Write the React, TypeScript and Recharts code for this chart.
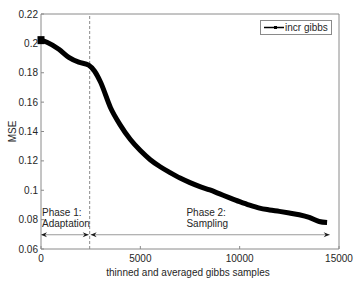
import React from 'react';
import { LineChart, Line, XAxis, YAxis, ReferenceLine, Legend } from 'recharts';

const xValues = [0, 300, 900, 1400, 1900, 2400, 2700, 3000, 3500, 4000, 4500, 5000, 5500, 6000, 6500, 7000, 7500, 8000, 8500, 9000, 9500, 10000, 10500, 11000, 11500, 12000, 12500, 13000, 13500, 14000, 14400];
const mseValues = [0.2022, 0.2008, 0.196, 0.1905, 0.1872, 0.1852, 0.181, 0.1735, 0.1562, 0.1442, 0.1345, 0.127, 0.1208, 0.116, 0.112, 0.1083, 0.1052, 0.1025, 0.1002, 0.0975, 0.0948, 0.0922, 0.0898, 0.0878, 0.0866, 0.0856, 0.0845, 0.0833, 0.0815, 0.0787, 0.078];
const xTicks = [0, 5000, 10000, 15000];
const yTicks = [0.06, 0.08, 0.1, 0.12, 0.14, 0.16, 0.18, 0.2, 0.22];
const seriesName = 'incr gibbs';
const phaseBoundary = 2450;
const arrowY = 0.0697;
const phase1Arrow = [0, 2400];
const phase2Arrow = [2500, 14530];
const phase1Text = ['Phase 1:', 'Adaptation'];
const phase2Text = ['Phase 2:', 'Sampling'];
const phase2TextX = 7320;

const data = xValues.map((x, i) => ({ x, y: mseValues[i] }));

const FONT = '"Liberation Sans", Arial, Helvetica, sans-serif';
const AXIS = '#8a8a8a';
const TEXT = '#262626';

const head = (tx: number, ty: number, dir: number) => {
  const L = 6, W = 2.6, N = 4;
  const pts = `${tx},${ty} ${tx - dir * L},${ty - W} ${tx - dir * N},${ty} ${tx - dir * L},${ty + W}`;
  return <polygon points={pts} fill="#1a1a1a" stroke="none" />;
};

const arrowShape = (props: any) => {
  const { x1, y1, x2 } = props;
  return (
    <g>
      <line x1={x1} y1={y1} x2={x2} y2={y1} stroke="#9a9a9a" strokeWidth={1} />
      {head(x1, y1, -1)}
      {head(x2, y1, 1)}
    </g>
  );
};

const textShape = (lines: string[]) => (props: any) => {
  const { x1, y1 } = props;
  return (
    <g>
      <text x={x1} y={y1 - 19} fontSize={10} fontFamily={FONT} fill={TEXT}>{lines[0]}</text>
      <text x={x1} y={y1 - 8} fontSize={10} fontFamily={FONT} fill={TEXT}>{lines[1]}</text>
    </g>
  );
};

const renderDot = (props: any) => {
  const { cx, cy, index } = props;
  if (index !== 0) return <g key={`d${index}`} />;
  return <rect key={`d${index}`} x={cx - 3.5} y={cy - 4} width={7} height={8} fill="#000" />;
};

const legendContent = () => (
  <div style={{ position: 'relative', width: 0, height: 0, overflow: 'visible' }}>
    <div
      style={{
        position: 'absolute',
        left: 0,
        top: 0,
        border: '1px solid #8a8a8a',
        background: '#fff',
        height: 13,
        width: 70,
        display: 'flex',
        alignItems: 'center',
        fontFamily: FONT,
        fontSize: 10,
        color: TEXT,
        boxSizing: 'content-box',
      }}
    >
      <svg width={24} height={13} style={{ display: 'block', flex: 'none' }}>
        <line x1={3} y1={6.5} x2={23} y2={6.5} stroke="#000" strokeWidth={1.5} />
        <rect x={13} y={5} width={3} height={3} fill="#000" />
      </svg>
      <span style={{ whiteSpace: 'nowrap' }}>{seriesName}</span>
    </div>
  </div>
);

export default function App() {
  return (
    <div style={{ position: 'absolute', left: 0, top: 0 }}>
      <LineChart width={359} height={284} data={data} margin={{ top: 0, right: 0, bottom: 0, left: 0 }}>
        <XAxis
          xAxisId="b"
          dataKey="x"
          type="number"
          domain={[0, 15000]}
          ticks={xTicks}
          height={35}
          stroke={AXIS}
          tickSize={-3}
          tickMargin={9}
          tick={{ fill: TEXT, fontSize: 10, fontFamily: FONT }}
          label={{
            content: (p: any) => {
              const vb = p.viewBox;
              return (
                <text x={vb.x + vb.width / 2 - 2} y={vb.y + 27} textAnchor="middle" fontSize={10} fontFamily={FONT} fill={TEXT}>
                  thinned and averaged gibbs samples
                </text>
              );
            },
          }}
        />
        <XAxis
          xAxisId="t"
          orientation="top"
          type="number"
          domain={[0, 15000]}
          ticks={xTicks}
          height={14}
          stroke={AXIS}
          tickSize={-3}
          tick={false}
        />
        <YAxis
          yAxisId="l"
          type="number"
          domain={[0.06, 0.22]}
          ticks={yTicks}
          width={41}
          stroke={AXIS}
          tickSize={-3}
          tickMargin={6}
          tickFormatter={(v: number) => String(Number(v.toFixed(2)))}
          tick={{ fill: TEXT, fontSize: 10, fontFamily: FONT }}
          label={{
            content: (p: any) => {
              const vb = p.viewBox;
              const cy = vb.y + vb.height / 2;
              return (
                <text x={16} y={cy} textAnchor="middle" transform={`rotate(-90, 16, ${cy})`} fontSize={10} fontFamily={FONT} fill={TEXT}>
                  MSE
                </text>
              );
            },
          }}
        />
        <YAxis
          yAxisId="r"
          orientation="right"
          type="number"
          domain={[0.06, 0.22]}
          ticks={yTicks}
          width={20}
          stroke={AXIS}
          tickSize={-3}
          tick={false}
        />
        <ReferenceLine xAxisId="b" yAxisId="l" x={phaseBoundary} stroke="#8a8a8a" strokeDasharray="3 2" />
        <ReferenceLine
          xAxisId="b"
          yAxisId="l"
          segment={[{ x: phase1Arrow[0], y: arrowY }, { x: phase1Arrow[1], y: arrowY }]}
          shape={arrowShape}
        />
        <ReferenceLine
          xAxisId="b"
          yAxisId="l"
          segment={[{ x: phase2Arrow[0], y: arrowY }, { x: phase2Arrow[1], y: arrowY }]}
          shape={arrowShape}
        />
        <ReferenceLine
          xAxisId="b"
          yAxisId="l"
          segment={[{ x: phase1Arrow[0], y: arrowY }, { x: phase1Arrow[0], y: arrowY }]}
          shape={(p: any) => textShape(phase1Text)({ ...p, x1: p.x1 + 1 })}
        />
        <ReferenceLine
          xAxisId="b"
          yAxisId="l"
          segment={[{ x: phase2TextX, y: arrowY }, { x: phase2TextX, y: arrowY }]}
          shape={textShape(phase2Text)}
        />
        <Line
          xAxisId="b"
          yAxisId="l"
          dataKey="y"
          name={seriesName}
          type="monotone"
          stroke="#000"
          strokeWidth={5}
          dot={renderDot}
          activeDot={false}
          isAnimationActive={false}
        />
        <Legend
          content={legendContent}
          wrapperStyle={{ position: 'absolute', top: 20, left: 260, width: 0, height: 0, right: 'auto', bottom: 'auto' }}
        />
      </LineChart>
    </div>
  );
}
